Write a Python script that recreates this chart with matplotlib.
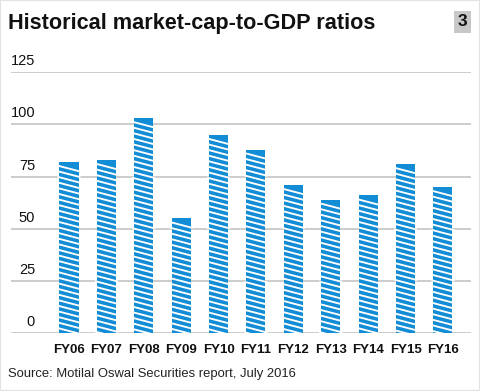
import matplotlib
matplotlib.use("Agg")
import matplotlib.pyplot as plt
import matplotlib.patches as patches
from matplotlib.lines import Line2D
from matplotlib.transforms import IdentityTransform
import numpy as np

years = ["FY06", "FY07", "FY08", "FY09", "FY10", "FY11", "FY12", "FY13", "FY14", "FY15", "FY16"]
ratios = [82, 83, 103, 55, 95, 88, 71, 64, 66, 81, 70]
y_ticks = [0, 25, 50, 75, 100, 125]

title = "Historical market-cap-to-GDP ratios"
source = "Source: Motilal Oswal Securities report, July 2016"

BLUE = "#138cd6"
GRID = "#cccccc"
plt.rcParams["font.family"] = ["Liberation Sans", "DejaVu Sans"]

W, H = 480, 391
fig = plt.figure(figsize=(W / 100, H / 100), dpi=100)
fig.patch.set_facecolor("white")
fig.patches.append(patches.Rectangle((0, 0), 1, 1, transform=fig.transFigure,
                                     fill=False, edgecolor="#e2e2e2", lw=1.5))

ax = fig.add_axes([11 / W, (H - 333.3) / H, 460 / W, 261 / H])
x = np.arange(len(years))
ax.set_xlim(-1.55, 10.75)
ax.set_ylim(0, 125)
for s in ax.spines.values():
    s.set_visible(False)
ax.set_xticks([])
ax.set_yticks([])

for t in y_ticks:
    ax.axhline(t, color=GRID, lw=1.4, zorder=1)
    ax.annotate(str(t), xy=(24 / 460, t), xycoords=("axes fraction", "data"),
                xytext=(0, 3), textcoords="offset points",
                ha="right", va="bottom", fontsize=10.5, color="#111111")

bars = ax.bar(x, ratios, width=0.51, color=BLUE, zorder=2)

# white diagonal stripes clipped to each bar
for b in bars:
    (x0, y0), (x1, y1) = ax.transData.transform([(b.get_x(), 0),
                                                 (b.get_x() + b.get_width(), b.get_height())])
    period, drop = 5.6, 5.0
    slope = drop / (x1 - x0)
    for yy in np.arange(y1 - 4.0, y0 - 2 * period, -period):
        ln = Line2D([x0 - 2, x1 + 2], [yy + 2 * slope, yy - (x1 - x0 + 2) * slope],
                    transform=IdentityTransform(), color="white", lw=1.35, zorder=3,
                    solid_capstyle="butt")
        ln.set_clip_path(b)
        ax.add_line(ln)

for xi, lab in zip(x, years):
    ax.annotate(lab, xy=(xi, 0), xycoords="data", xytext=(0, -8), textcoords="offset points",
                ha="center", va="top", fontsize=9.5, fontweight="bold", color="#111111")

fig.text(8 / W, 1 - 24 / H, title, fontsize=15.6, fontweight="bold",
         ha="left", va="center", color="#111111")
fig.text(462.5 / W, 1 - 22 / H, "3", fontsize=12.5, fontweight="bold", ha="center", va="center",
         color="#111111",
         bbox=dict(boxstyle="square,pad=0.22", fc="#c8c8c8", ec="none"))
fig.text(8 / W, 1 - 374 / H, source, fontsize=9.4, ha="left", va="center", color="#222222")

fig.savefig("out.png", dpi=100)
